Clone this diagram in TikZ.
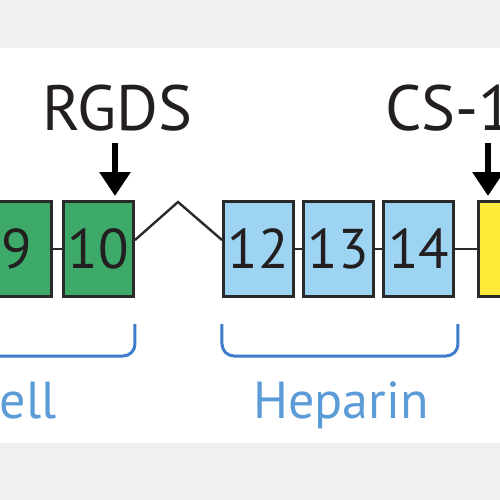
\documentclass[tikz,border=0pt]{standalone}
\usepackage{fontspec}
\setmainfont{PT Sans}
\usetikzlibrary{arrows.meta}
\definecolor{bggray}{HTML}{F0F0F0}
\definecolor{boxline}{HTML}{2A2A2A}
\definecolor{txt}{HTML}{231F20}
\definecolor{greenfill}{HTML}{3DAA6A}
\definecolor{bluefill}{HTML}{9DD4F2}
\definecolor{yellowfill}{HTML}{FFEC3A}
\definecolor{labelblue}{HTML}{5B9BD8}
\definecolor{brackblue}{HTML}{3D7CC9}
\begin{document}
\begin{tikzpicture}[x=0.5pt,y=-0.5pt,
  dom/.style={draw=boxline, line width=1.5pt, minimum width=35pt, minimum height=47.5pt,
    inner sep=0pt, font=\fontsize{28}{30}\selectfont, text=txt},
  greendom/.style={dom, fill=greenfill},
  bluedom/.style={dom, fill=bluefill},
  yellowdom/.style={dom, fill=yellowfill},
  link/.style={draw=boxline, line width=1pt},
  zig/.style={draw=boxline, line width=1.2pt},
  arr/.style={draw=black, line width=3pt, -{Triangle[width=15pt,length=12pt]}},
  toplabel/.style={font=\fontsize{32}{34}\selectfont, text=txt, inner sep=0pt},
  sitelabel/.style={font=\fontsize{26}{28}\selectfont, text=labelblue, inner sep=0pt},
  brk/.style={draw=brackblue, line width=1.5pt, rounded corners=6pt}]
\useasboundingbox (0,0) rectangle (500,500);
\begin{scope}
\clip (0,0) rectangle (500,500);
\fill[bggray] (0,0) rectangle (500,500);
\fill[white] (0,48) rectangle (500,443);
% domains
\node[greendom] (b9) at (16.5,249) {9};
\node[greendom] (b10) at (98.5,249) {10};
\node[bluedom] (b12) at (258.5,249) {12};
\node[bluedom] (b13) at (338.5,249) {13};
\node[bluedom] (b14) at (419,249) {14};
\node[yellowdom] (by) at (513.5,249) {};
% links
\draw[link] (b9) -- (b10);
\draw[link] (b12) -- (b13);
\draw[link] (b13) -- (b14);
\draw[link] (b14) -- (by);
\coordinate (peak) at (178,202);
\draw[zig] ([yshift=4.5pt]b10.east) -- (peak) -- ([yshift=4.5pt]b12.west);
% labels and arrows
\node[toplabel, anchor=base west] (rgds) at (42,130) {RGDS};
\node[toplabel, anchor=base west] (cs1) at (385,130) {CS-1};
\coordinate (a1s) at (115,143);
\coordinate (a1e) at (115,196);
\coordinate (a2s) at (488,143);
\coordinate (a2e) at (488,196);
\draw[arr] (a1s) -- (a1e);
\draw[arr] (a2s) -- (a2e);
% brackets
\draw[brk] (135,324) -- (135,356) -- (-20,356);
\draw[brk] (222,324) -- (222,356) -- (458,356) -- (458,324);
\node[sitelabel, anchor=base east] (cell) at (57,418) {Cell};
\node[sitelabel, anchor=base] (hep) at (341,418) {Heparin};
\end{scope}
\end{tikzpicture}
\end{document}
